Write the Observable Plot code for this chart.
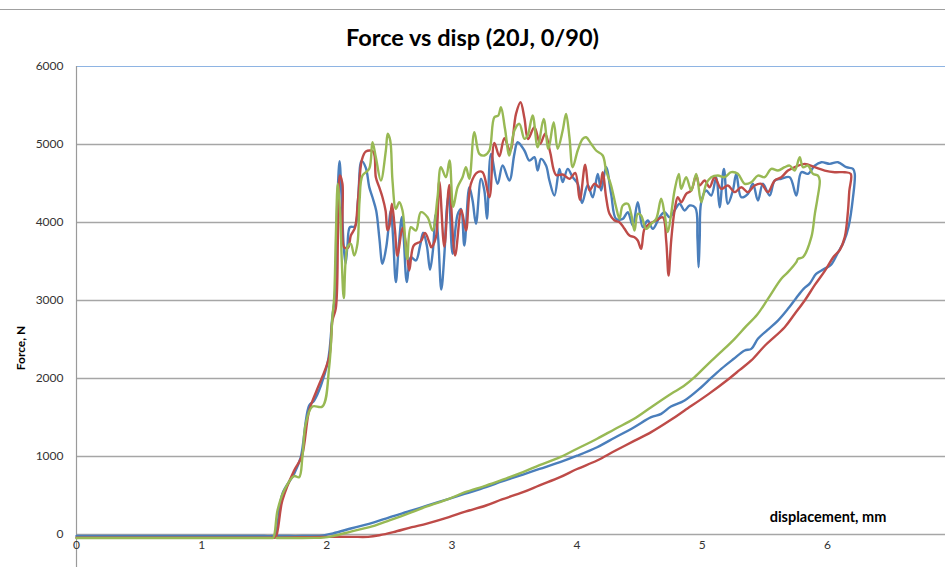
<!DOCTYPE html>
<html><head><meta charset="utf-8">
<script src="https://cdn.jsdelivr.net/npm/d3@7"></script>
<script src="https://cdn.jsdelivr.net/npm/@observablehq/plot@0.6"></script>
<style>
body{margin:0;background:#fff;}
#wrap{position:relative;width:945px;height:567px;overflow:hidden;font-family:Lato,"Open Sans",sans-serif;background:#fff;}
#border{position:absolute;left:0;top:9px;width:945px;height:0;border-top:1.5px solid #a0a0a0;}
#title{height:50px;position:relative;}
#title span{position:absolute;left:0;width:945px;top:23px;text-align:center;font-weight:bold;font-size:23.5px;line-height:28px;color:#000;}
#ylab{position:absolute;left:20px;top:348px;transform:translate(-50%,-50%) rotate(-90deg);font-weight:bold;font-size:12px;white-space:nowrap;color:#000;}
#xlab{position:absolute;left:828px;top:516px;transform:translate(-50%,-50%);font-weight:bold;font-size:14.5px;white-space:nowrap;color:#000;}
#plot svg{display:block;}
</style></head>
<body><div id="wrap"><div id="border"></div><div id="title"><span id="ttl"></span></div><div id="plot"></div><div id="ylab"></div><div id="xlab"></div></div>
<script>
const titleText = "Force vs disp (20J, 0/90)";
const xLabel = "displacement, mm";
const yLabel = "Force, N";
const xTicks = [0, 1, 2, 3, 4, 5, 6];
const yTicks = [0, 1000, 2000, 3000, 4000, 5000, 6000];
const seriesColors = ["#4a7ebb", "#be4b48", "#98b954"];

// [displacement mm, force N]
const bluePts = [
[0,-20],[0.4,-20],[0.8,-20],[1.2,-20],[1.5,-20],[1.56,-20],[1.585,-18],[1.645,521],[1.739,778],[1.792,991],[1.859,1654],[1.899,1718],[2.005,2188],[2.045,2800],
[2.064,3042],[2.085,4300],[2.102,4786],[2.117,4368],[2.135,3700],[2.150,3470],[2.165,3700],[2.185,3940],[2.225,3950],
[2.250,4300],[2.278,4790],[2.312,4700],[2.340,4450],[2.365,4324],[2.395,4150],[2.420,3800],[2.445,3470],[2.475,3683],
[2.512,4150],[2.530,3800],[2.552,3235],[2.575,3700],[2.600,4070],[2.615,3800],[2.640,3235],[2.672,3555],[2.712,3513],
[2.745,3700],[2.770,3870],[2.800,3700],[2.825,3395],[2.848,3640],[2.870,4100],[2.890,3800],[2.915,3140],[2.940,3600],
[2.960,4200],[2.975,4368],[3.005,3600],[3.045,4100],[3.072,4175],[3.099,3705],[3.139,4452],[3.165,4282],[3.192,3983],
[3.232,4560],[3.259,4410],[3.28,4047],[3.312,4880],[3.365,4496],[3.405,4730],[3.459,4538],[3.499,4880],[3.525,5029],
[3.579,4923],[3.619,4794],[3.659,4837],[3.685,4666],[3.712,4816],[3.752,4730],[3.779,4538],[3.819,4346],[3.859,4688],
[3.885,4517],[3.925,4688],[3.965,4581],[4.005,4496],[4.040,4250],[4.085,4480],[4.125,4324],[4.165,4624],[4.192,4410],
[4.232,4709],[4.272,4368],[4.312,4047],[4.365,4047],[4.405,4132],[4.445,3962],[4.485,4260],[4.525,3940],[4.565,4026],
[4.605,3919],[4.659,4068],[4.699,4132],[4.739,4068],[4.779,4154],[4.819,4240],[4.859,4154],[4.899,4218],[4.945,4190],
[4.962,3800],[4.971,3427],[4.980,3800],[4.992,4260],[5.032,4410],[5.072,4346],[5.112,4581],[5.139,4196],[5.173,4688],
[5.205,4240],[5.245,4410],[5.272,4624],[5.312,4324],[5.365,4368],[5.405,4496],[5.445,4282],[5.485,4496],[5.539,4346],
[5.579,4538],[5.632,4560],[5.699,4581],[5.752,4346],[5.792,4645],[5.845,4624],[5.899,4730],[5.952,4773],[6.019,4752],
[6.085,4773],[6.152,4709],[6.205,4688],[6.219,4624],
[6.205,4324],[6.17,3950],[6.13,3750],[6.08,3600],[6.03,3460],[5.97,3400],[5.91,3340],[5.86,3220],[5.81,3150],[5.75,3030],
[5.685,2893],[5.605,2743],[5.52,2620],[5.445,2509],[5.392,2380],[5.339,2359],[5.25,2250],[5.152,2124],[5.05,1975],
[4.992,1888],[4.859,1718],[4.75,1640],[4.672,1547],[4.592,1504],[4.456,1376],[4.3,1240],[4.16,1119],[4.0,1010],
[3.864,927],[3.7,840],[3.568,769],[3.4,680],[3.272,607],[3.1,520],[2.976,457],[2.8,370],[2.68,308],[2.5,220],
[2.384,158],[2.2,80],[2.05,15],[1.955,-15],[1.9,-18],[1.8,-20],[1.7,-20],[1.6,-20]
];

const redPts = [
[0,-40],[0.4,-40],[0.8,-40],[1.2,-40],[1.5,-40],[1.565,-40],[1.59,-38],[1.645,436],[1.739,820],[1.80,1000],[1.859,1590],[1.92,1850],[2.019,2273],[2.045,2743],
[2.072,2900],[2.090,3900],[2.105,4602],[2.125,4496],[2.139,3680],[2.171,3680],[2.192,3833],[2.225,3930],[2.250,4300],
[2.280,4800],[2.312,4910],[2.370,4910],[2.392,4581],[2.419,4452],[2.445,4324],[2.470,4150],[2.485,3900],[2.500,3950],
[2.520,4240],[2.545,3900],[2.565,3570],[2.605,3930],[2.635,3700],[2.659,3385],[2.695,3705],[2.752,3760],[2.785,3865],
[2.819,3747],[2.835,3683],[2.872,3812],[2.899,4530],[2.939,3690],[2.979,4480],[3.025,3577],[3.075,4165],[3.112,3897],
[3.152,4500],[3.205,4645],[3.245,4645],[3.299,4324],[3.339,5020],[3.379,4850],[3.419,5080],[3.465,4920],[3.512,5393],
[3.548,5542],[3.579,5340],[3.608,5070],[3.659,5222],[3.705,5010],[3.745,5137],[3.785,4900],[3.832,4610],[3.885,4615],
[3.939,4560],[3.985,4635],[4.022,4290],[4.065,4740],[4.099,4410],[4.139,4496],[4.179,4452],[4.205,4645],[4.232,4324],
[4.259,4111],[4.299,4026],[4.339,4004],[4.379,3919],[4.419,3833],[4.459,3812],[4.485,3769],[4.512,3662],[4.539,3919],
[4.579,3983],[4.632,4026],[4.685,4068],[4.712,3769],[4.731,3320],[4.752,3769],[4.779,4154],[4.805,4324],[4.832,4260],
[4.872,4368],[4.912,4410],[4.952,4602],[4.979,4474],[5.019,4538],[5.059,4452],[5.099,4581],[5.152,4432],[5.205,4474],
[5.259,4389],[5.312,4452],[5.365,4389],[5.419,4474],[5.472,4496],[5.525,4389],[5.579,4538],[5.632,4581],[5.685,4666],
[5.739,4709],[5.819,4752],[5.899,4709],[5.979,4666],[6.059,4645],[6.139,4645],[6.187,4624],
[6.175,4400],[6.165,4154],[6.139,3812],[6.10,3650],[6.05,3560],[5.98,3380],[5.90,3200],[5.819,3000],[5.74,2830],
[5.659,2658],[5.5,2420],[5.392,2231],[5.3,2110],[5.219,2004],[5.05,1800],[4.859,1590],[4.75,1470],[4.592,1312],
[4.456,1200],[4.3,1070],[4.16,949],[4.0,840],[3.864,735],[3.7,630],[3.568,543],[3.4,450],[3.272,372],[3.1,290],
[2.976,222],[2.8,140],[2.68,94],[2.532,30],[2.42,-10],[2.33,-30],[2.2,-30],[2.0,-30],[1.8,-35],[1.6,-40]
];

const greenPts = [
[0,-45],[0.4,-45],[0.8,-45],[1.2,-45],[1.5,-45],[1.55,-45],[1.572,-42],[1.606,308],[1.659,564],[1.739,748],[1.779,735],[1.805,991],[1.832,1419],[1.885,1641],[1.965,1641],
[2.019,2145],[2.045,2786],[2.059,3042],[2.072,3800],[2.088,4496],[2.107,4111],[2.120,3500],[2.136,3030],[2.165,3683],
[2.192,3727],[2.219,3577],[2.245,3727],[2.262,4282],[2.285,4602],[2.339,4688],[2.365,5029],[2.392,4837],[2.432,4538],
[2.472,4923],[2.487,5137],[2.507,5051],[2.525,4538],[2.552,4175],[2.579,4260],[2.605,4154],[2.642,3534],[2.672,3940],
[2.712,3897],[2.752,4132],[2.805,4068],[2.845,3897],[2.885,4324],[2.912,4709],[2.952,4581],[2.981,4794],[3.010,4200],
[3.045,4452],[3.085,4581],[3.112,4709],[3.139,4560],[3.179,5158],[3.219,4880],[3.259,4859],[3.299,4923],[3.339,5350],
[3.371,5372],[3.392,5478],[3.424,5201],[3.459,4859],[3.499,5179],[3.539,5265],[3.579,5072],[3.605,5115],[3.645,5372],
[3.685,4965],[3.733,5329],[3.771,4945],[3.813,5286],[3.845,4945],[3.885,5179],[3.912,5393],[3.939,5093],[3.965,4709],
[4.005,4923],[4.045,5072],[4.072,5093],[4.112,5009],[4.152,4923],[4.205,4859],[4.232,4666],[4.272,4474],[4.312,4196],
[4.339,4047],[4.365,4218],[4.405,4240],[4.432,4111],[4.459,3897],[4.485,4111],[4.512,4090],[4.552,3919],[4.592,3983],
[4.632,4047],[4.672,4304],[4.699,4111],[4.725,3876],[4.752,4111],[4.779,4410],[4.813,4624],[4.832,4432],[4.872,4581],
[4.912,4410],[4.952,4624],[4.992,4260],[5.032,4496],[5.072,4581],[5.125,4602],[5.179,4581],[5.232,4645],[5.285,4624],
[5.339,4496],[5.392,4517],[5.445,4602],[5.499,4581],[5.552,4688],[5.605,4666],[5.659,4709],[5.699,4730],[5.739,4666],
[5.779,4837],[5.805,4709],[5.845,4730],[5.885,4624],[5.925,4602],[5.939,4538],
[5.92,4300],[5.9,4111],[5.872,3812],[5.805,3555],[5.765,3534],[5.752,3491],[5.685,3363],[5.632,3280],[5.525,3021],
[5.44,2820],[5.344,2658],[5.259,2509],[5.15,2340],[5.048,2188],[4.939,2017],[4.85,1900],[4.752,1804],[4.592,1632],
[4.456,1483],[4.3,1350],[4.16,1227],[4.0,1100],[3.864,991],[3.7,890],[3.568,799],[3.4,700],[3.272,628],[3.1,540],
[2.976,457],[2.8,360],[2.68,286],[2.5,180],[2.384,115],[2.2,40],[2.05,-20],[1.97,-40],[1.9,-43],[1.75,-45],[1.6,-45]
];

document.getElementById("ttl").textContent = titleText;
document.getElementById("ylab").textContent = yLabel;
document.getElementById("xlab").textContent = xLabel;

const series = [bluePts, redPts, greenPts];
const gridVals = yTicks.filter(v => v < 6000);
const topVal = yTicks.filter(v => v === 6000);

const chart = Plot.plot({
  width: 945, height: 517,
  marginTop: 16, marginLeft: 76, marginRight: 0, marginBottom: 0,
  style: {fontFamily: "Lato, 'Open Sans', sans-serif", background: "#fff"},
  x: {domain: [0, 6.944], axis: null},
  y: {domain: [-423, 6000], axis: null},
  marks: [
    Plot.ruleY(gridVals, {stroke: "#a6a6a6", strokeWidth: 1.4}),
    Plot.ruleY(topVal, {stroke: "#8eb4e3", strokeWidth: 1.2}),
    Plot.ruleX([0], {stroke: "#9a9a9a", strokeWidth: 1.2}),
    ...series.map((pts, i) => Plot.line(pts, {x: d => d[0], y: d => d[1], stroke: seriesColors[i], strokeWidth: 2.4, curve: "catmull-rom", strokeLinejoin: "round"})),
    Plot.text(yTicks, {y: d => d, frameAnchor: "left", textAnchor: "end", dx: -13, fontSize: 12, fill: "#333", text: d => String(d)}),
    Plot.text(xTicks, {x: d => d, frameAnchor: "bottom", dy: -19, fontSize: 12, fill: "#333", text: d => String(d)})
  ]
});
document.getElementById("plot").appendChild(chart);
</script>
</body></html>
